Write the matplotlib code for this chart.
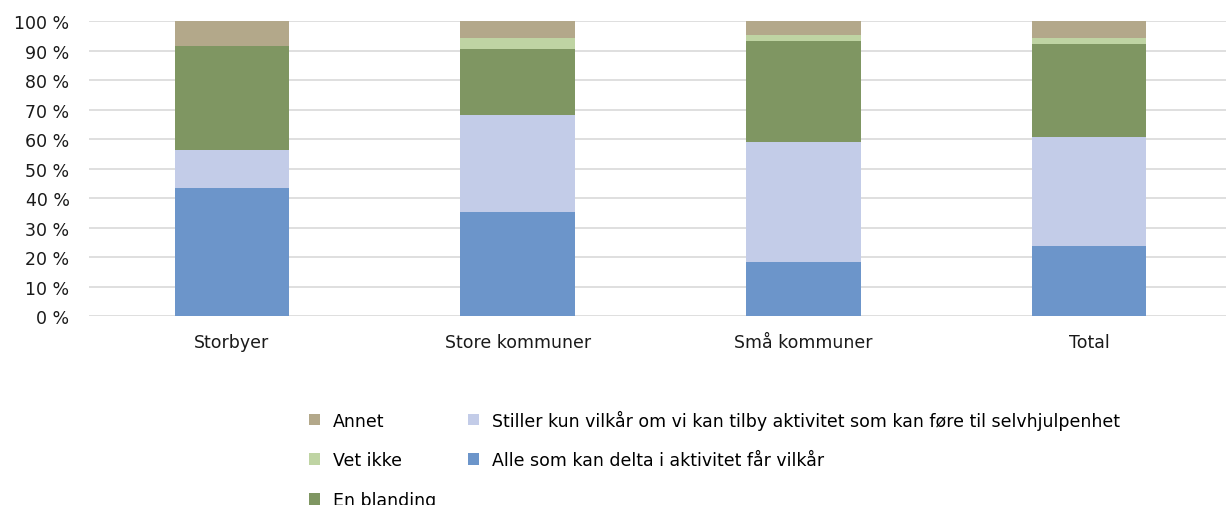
import numpy as np
import matplotlib.pyplot as plt
from matplotlib.patches import Patch

categories = ['Storbyer', 'Store kommuner', 'Små kommuner', 'Total']

# share of answers, in percent (bottom to top of each stack)
alle = [43.5, 35.3, 18.3, 23.7]
stiller = [12.8, 32.8, 40.7, 37.1]
blanding = [35.2, 22.4, 34.2, 31.5]
vet_ikke = [0.0, 3.7, 2.1, 1.9]
annet = [8.5, 5.8, 4.7, 5.8]

series = [
   ('Alle som kan delta i aktivitet får vilkår', alle, '#6C95CA'),
   ('Stiller kun vilkår om vi kan tilby aktivitet som kan føre til selvhjulpenhet', stiller, '#C3CCE8'),
   ('En blanding', blanding, '#7F9662'),
   ('Vet ikke', vet_ikke, '#BFD4A3'),
   ('Annet', annet, '#B3A88A'),
]

plt.rcParams['font.family'] = ['DejaVu Sans']

fig = plt.figure(figsize=(12.26, 5.06), dpi=100)
ax = fig.add_axes([89/1226, 1 - 317.3/506, 1143/1226, 295.3/506])

x = np.arange(len(categories))
bottom = np.zeros(len(categories))
handles = {}
for label, values, color in series:
   vals = np.array(values)
   ax.bar(x, vals, 0.40, bottom=bottom, color=color, zorder=2)
   bottom += vals
   handles[label] = Patch(facecolor=color, label=label)

ax.set_xlim(-0.5, 3.5)
ax.set_ylim(0, 100)
ax.set_yticks(np.arange(0, 101, 10))
ax.set_yticklabels(['{} %'.format(v) for v in range(0, 101, 10)])
ax.set_xticks(x)
ax.set_xticklabels(categories)
ax.yaxis.grid(True, color='#D9D9D9', linewidth=1.2, zorder=0)
ax.set_axisbelow(True)
for s in ax.spines.values():
   s.set_visible(False)
ax.tick_params(axis='y', length=0, pad=14, labelsize=12.5, colors='#1a1a1a')
ax.tick_params(axis='x', length=0, pad=12, labelsize=12.5, colors='#1a1a1a')

order = ['Annet', 'Vet ikke', 'En blanding',
         'Stiller kun vilkår om vi kan tilby aktivitet som kan føre til selvhjulpenhet',
         'Alle som kan delta i aktivitet får vilkår']
fig.legend([handles[k] for k in order], order, loc='upper left',
           bbox_to_anchor=(309/1226, 1 - 410.5/506), ncol=2, frameon=False,
           fontsize=12.5, handlelength=0.63, handleheight=0.63, handletextpad=0.75,
           labelspacing=1.25, columnspacing=1.85, borderpad=0, borderaxespad=0)

fig.savefig('out.png', dpi=100)
